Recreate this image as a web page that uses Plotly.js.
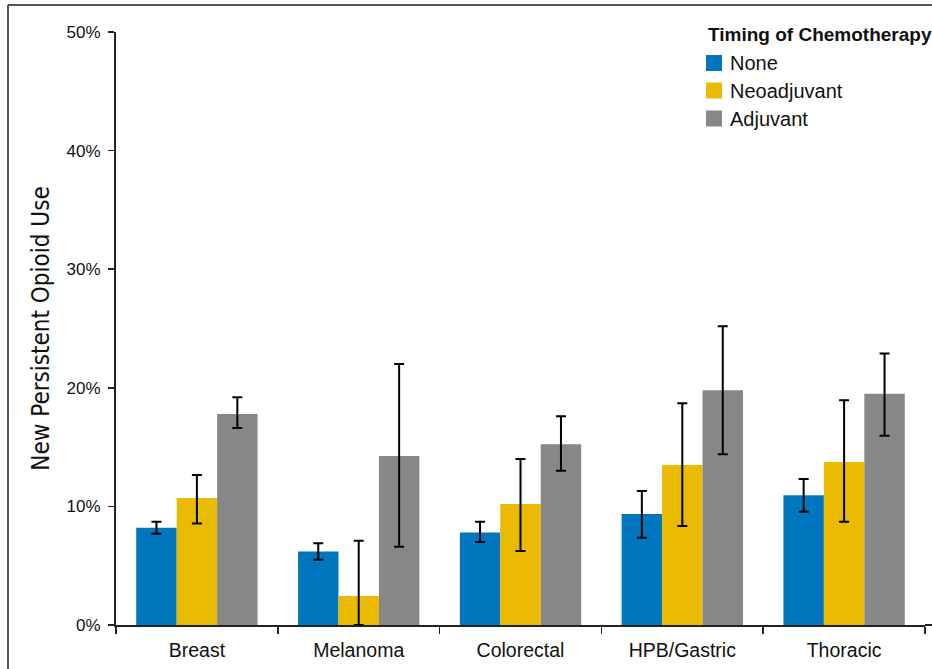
<!DOCTYPE html>
<html>
<head>
<meta charset="utf-8">
<script src="https://cdn.plot.ly/plotly-3.0.1.min.js"></script>
<style>html,body{margin:0;padding:0;background:#fff;}#chart{width:932px;height:669px;}</style>
</head>
<body>
<div id="chart"></div>
<script>
const categories = ["Breast", "Melanoma", "Colorectal", "HPB/Gastric", "Thoracic"];
const seriesNames = ["None", "Neoadjuvant", "Adjuvant"];
const legendTitle = "Timing of Chemotherapy";

const noneVals = [8.2, 6.2, 7.8, 9.35, 10.95];
const noneUpper = [8.7, 6.9, 8.7, 11.3, 12.3];
const noneLower = [7.7, 5.5, 7.0, 7.35, 9.55];

const neoVals = [10.7, 2.45, 10.2, 13.5, 13.75];
const neoUpper = [12.65, 7.1, 14.0, 18.7, 18.95];
const neoLower = [8.55, 0.0, 6.25, 8.35, 8.7];

const adjVals = [17.8, 14.25, 15.25, 19.8, 19.5];
const adjUpper = [19.2, 22.0, 17.6, 25.2, 22.9];
const adjLower = [16.6, 6.6, 13.0, 14.4, 15.95];

const yTickVals = [0, 10, 20, 30, 40, 50];
const yTickText = ["0%", "10%", "20%", "30%", "40%", "50%"];

const colors = ["#0076BE", "#E9BA00", "#878787"];

function mk(name, vals, up, lo, color) {
  return {
    type: "bar", name: name, x: categories, y: vals, showlegend: false,
    marker: {color: color, line: {width: 0}},
    error_y: {
      type: "data", symmetric: false,
      array: vals.map((v, i) => up[i] - v),
      arrayminus: vals.map((v, i) => v - lo[i]),
      color: "#000", thickness: 2, width: 5
    }
  };
}

const data = [
  mk(seriesNames[0], noneVals, noneUpper, noneLower, colors[0]),
  mk(seriesNames[1], neoVals, neoUpper, neoLower, colors[1]),
  mk(seriesNames[2], adjVals, adjUpper, adjLower, colors[2])
];

// plot area geometry (pixels) for converting legend placement to paper coords
const L = 116, R = 925, T = 32, B = 625;
const px = x => (x - L) / (R - L);
const py = y => (B - y) / (B - T);

const shapes = [
  {type: "line", xref: "paper", yref: "paper", x0: px(8), x1: px(8), y0: py(5), y1: py(680), line: {color: "#555", width: 2}},
  {type: "line", xref: "paper", yref: "paper", x0: px(8), x1: px(940), y0: py(5), y1: py(5), line: {color: "#555", width: 2}},
  {type: "line", xref: "paper", yref: "paper", x0: 1, x1: px(935), y0: 0, y1: 0, line: {color: "#222", width: 2}}
];
const annotations = [
  {xref: "paper", yref: "paper", x: px(706), y: py(34), xanchor: "left", yanchor: "middle", showarrow: false,
   text: "<b>" + legendTitle + "</b>", font: {size: 19, color: "#111"}}
];
const itemY = [63, 90.5, 118.5];
seriesNames.forEach((n, i) => {
  shapes.push({type: "rect", xref: "paper", yref: "paper", x0: px(706), x1: px(722), y0: py(itemY[i] - 8), y1: py(itemY[i] + 8),
    fillcolor: colors[i], line: {width: 0}});
  annotations.push({xref: "paper", yref: "paper", x: px(728), y: py(itemY[i]), xanchor: "left", yanchor: "middle",
    showarrow: false, text: n, font: {size: 20, color: "#111"}});
});

const layout = {
  width: 932, height: 669,
  margin: {l: L, r: 932 - R, t: T, b: 669 - B},
  paper_bgcolor: "#fff", plot_bgcolor: "#fff",
  barmode: "group", bargap: 0.25, bargroupgap: 0,
  showlegend: false,
  font: {family: "Liberation Sans, Arial, sans-serif", color: "#111", size: 17},
  xaxis: {
    type: "category", tickson: "boundaries", ticks: "outside", ticklen: 7, tickwidth: 1.5,
    tickcolor: "#222", showline: true, linecolor: "#222", linewidth: 2,
    showgrid: false, zeroline: false, tickfont: {size: 19.5}, ticklabelstandoff: 7
  },
  yaxis: {
    range: [0, 50], tickvals: yTickVals, ticktext: yTickText,
    ticks: "outside", ticklen: 6, tickwidth: 1.5, tickcolor: "#222",
    showline: true, linecolor: "#222", linewidth: 2, showgrid: false, zeroline: false,
    tickfont: {size: 17}, ticklabelstandoff: 4,
    title: {text: "New Persistent Opioid Use", standoff: 10,
      font: {family: "Liberation Sans Narrow, DejaVu Sans Condensed, Arial Narrow, sans-serif", size: 24, color: "#111"}}
  },
  shapes: shapes,
  annotations: annotations
};

Plotly.newPlot("chart", data, layout, {displayModeBar: false, staticPlot: true});
</script>
</body>
</html>
